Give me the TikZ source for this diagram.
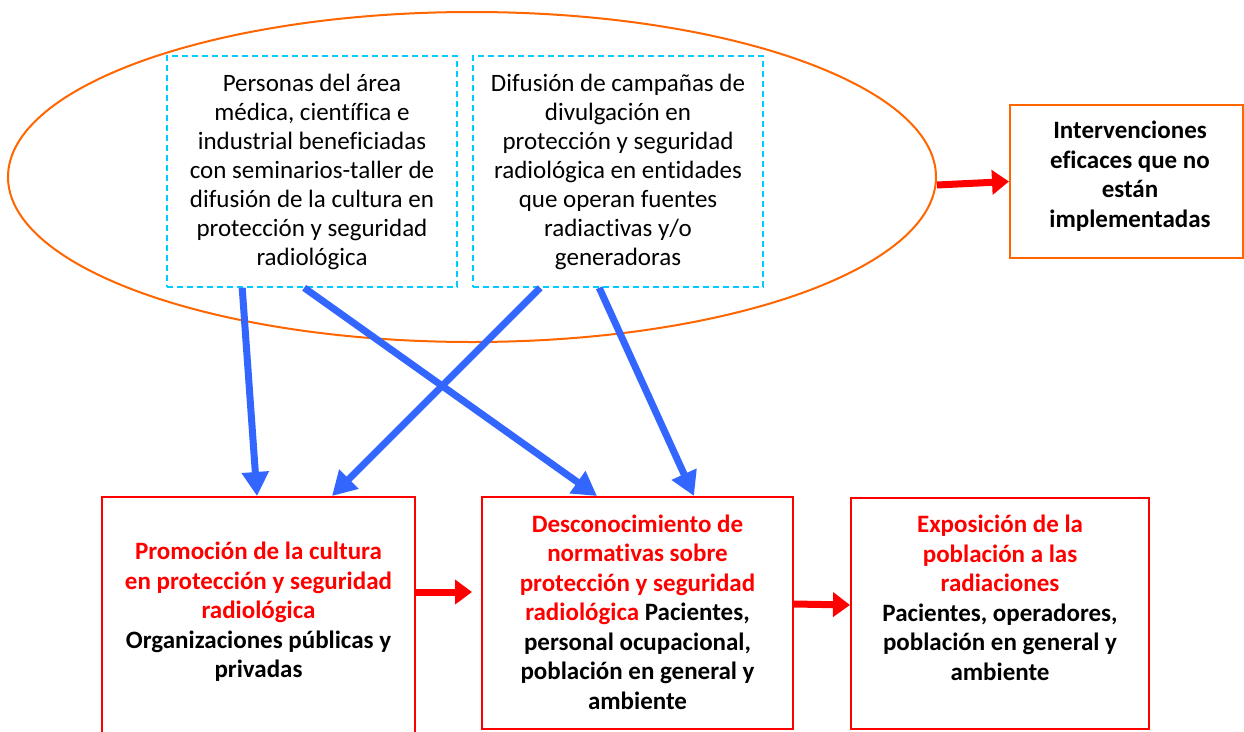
\documentclass[tikz,border=0pt]{standalone}
\usepackage{fontspec}
\setmainfont{Carlito}[Ligatures=NoCommon]
\usetikzlibrary{arrows.meta,calc,shapes.geometric}
\definecolor{orng}{RGB}{255,102,0}
\definecolor{cyanb}{RGB}{0,204,255}
\definecolor{bluea}{RGB}{51,102,255}
\definecolor{redc}{RGB}{255,0,0}
\tikzset{
  txt/.style={align=center, inner sep=0pt, font=\fontsize{25}{29}\selectfont},
  btxt/.style={align=center, inner sep=0pt, font=\fontsize{25}{29.5}\selectfont\bfseries},
  dbox/.style={draw=cyanb, line width=1.6pt, dash pattern=on 6pt off 4pt, inner sep=0pt},
  rbox/.style={draw=redc, line width=2pt, inner sep=0pt},
  obox/.style={draw=orng, line width=2pt, inner sep=0pt},
  barrow/.style={draw=bluea, line width=7pt, -{Triangle[length=24pt,width=26pt]}},
  rarrow/.style={draw=redc, line width=7pt, -{Triangle[length=17pt,width=24pt]}},
}
\begin{document}
\begin{tikzpicture}[x=1pt,y=-1pt]
\clip (0,0) rectangle (1244,731);
\fill[white] (0,0) rectangle (1244,731);
% ellipse
\node[ellipse, draw=orng, line width=2pt, inner sep=0pt, minimum width=928pt, minimum height=330pt] (ell) at (472,177) {};
% dashed boxes
\node[dbox, txt, minimum width=290pt, minimum height=231pt] (d1) at (312,171.5)
  {Personas del área\\médica, científica e\\industrial beneficiadas\\con seminarios-taller de\\difusión de la cultura en\\protección y seguridad\\radiológica};
\node[dbox, txt, minimum width=290pt, minimum height=231pt] (d2) at (618,171.5)
  {Difusión de campañas de\\divulgación en\\protección y seguridad\\radiológica en entidades\\que operan fuentes\\radiactivas y/o\\generadoras};
% intervenciones
\node[obox, minimum width=233pt, minimum height=153pt] (iv) at (1126.5,181.5) {};
\node[btxt] (ivt) at (1130,176) {Intervenciones\\eficaces que no\\están\\implementadas};
% bottom boxes
\node[rbox, minimum width=313pt, minimum height=248pt] (b1) at (258.5,621) {};
\node[btxt, text=redc] (b1t) at (258.5,612)
  {Promoción de la cultura\\en protección y seguridad\\radiológica\\\textcolor{black}{Organizaciones públicas y}\\\textcolor{black}{privadas}};
\node[rbox, minimum width=311pt, minimum height=232pt] (b2) at (637.5,613) {};
\node[btxt, text=redc] (b2t) at (637.5,612)
  {Desconocimiento de\\normativas sobre\\protección y seguridad\\radiológica \textcolor{black}{Pacientes,}\\\textcolor{black}{personal ocupacional,}\\\textcolor{black}{población en general y}\\\textcolor{black}{ambiente}};
\node[rbox, minimum width=298pt, minimum height=231pt] (b3) at (1000,613.5) {};
\node[btxt, text=redc] (b3t) at (1000,598)
  {Exposición de la\\población a las\\radiaciones\\\textcolor{black}{Pacientes, operadores,}\\\textcolor{black}{población en general y}\\\textcolor{black}{ambiente}};
% blue arrows
\draw[barrow] ([xshift=76pt]d1.south west) -- ([xshift=156pt]b1.north west);
\draw[barrow] ([xshift=138pt]d1.south west) -- ([xshift=116pt]b2.north west);
\draw[barrow] ([xshift=68pt]d2.south west) -- ([xshift=231pt]b1.north west);
\draw[barrow] ([xshift=127pt]d2.south west) -- ([xshift=213pt]b2.north west);
% red arrows
\draw[rarrow] ([yshift=-8pt]ell.east) -- (iv.west);
\draw[rarrow] ([yshift=-96pt]b1.north east) -- ([xshift=-9pt,yshift=-96pt]b2.north west);
\draw[rarrow] ([yshift=-108pt]b2.north east) -- ([yshift=-108pt]b3.north west);
\end{tikzpicture}
\end{document}
